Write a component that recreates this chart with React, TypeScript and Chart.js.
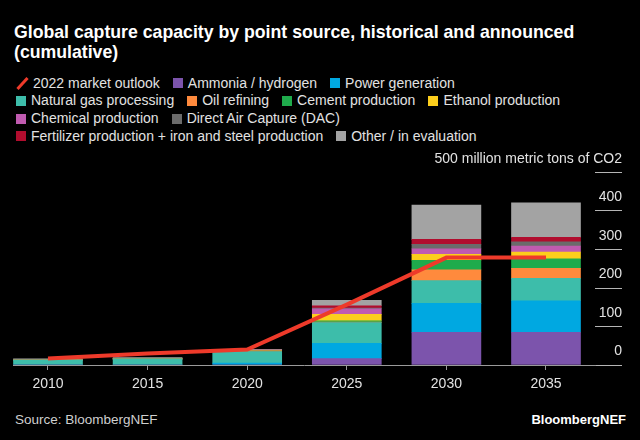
import React, { useEffect, useRef } from "react";
import { Chart, registerables } from "chart.js";

Chart.register(...registerables);

// ---- data ----
const years = [2010, 2015, 2020, 2025, 2030, 2035];
const ammonia = [0, 0, 0, 16.5, 85, 85];
const power = [0, 0, 5, 39.5, 75, 82];
const naturalGas = [13, 16, 30, 54.5, 59, 58];
const oilRefining = [0, 0, 1.5, 1, 28, 26];
const cement = [0, 0, 0, 3.5, 25, 25];
const ethanol = [0, 0, 0, 16.5, 15.5, 17.5];
const chemical = [0, 0, 0.5, 14.5, 14, 15.5];
const dac = [0, 0, 0, 2, 12, 11];
const fertilizerSteel = [0, 1.5, 1.5, 6, 13, 11.5];
const otherEval = [3, 1.5, 2.5, 14, 89, 90];
const outlook2022 = [17, 30, 40, 157, 279, 279];
const yTickValues = [0, 100, 200, 300, 400, 500];
const yTickLabels = ["0", "100", "200", "300", "400", "500 million metric tons of CO2"];

const FONT = '"Liberation Sans", Arial, Helvetica, sans-serif';
const LINE_RED = "#ee3a2a";

const barSeries = [
  { label: "Ammonia / hydrogen", data: ammonia, color: "#7c54ac" },
  { label: "Power generation", data: power, color: "#00a8e1" },
  { label: "Natural gas processing", data: naturalGas, color: "#3dbdaa" },
  { label: "Oil refining", data: oilRefining, color: "#ff8a3d" },
  { label: "Cement production", data: cement, color: "#1fab4c" },
  { label: "Ethanol production", data: ethanol, color: "#fcce1c" },
  { label: "Chemical production", data: chemical, color: "#c05bb0" },
  { label: "Direct Air Capture (DAC)", data: dac, color: "#6b6b6b" },
  { label: "Fertilizer production + iron and steel production", data: fertilizerSteel, color: "#b10d2e" },
  { label: "Other / in evaluation", data: otherEval, color: "#a3a3a3" },
];

const legendRows = [
  ["2022 market outlook", "Ammonia / hydrogen", "Power generation"],
  ["Natural gas processing", "Oil refining", "Cement production", "Ethanol production"],
  ["Chemical production", "Direct Air Capture (DAC)"],
  ["Fertilizer production + iron and steel production", "Other / in evaluation"],
];

const yLabelPlugin = {
  id: "yLabels",
  afterDraw(chart: any) {
    const s = chart.scales.y;
    const ctx = chart.ctx;
    ctx.save();
    ctx.font = `14px ${FONT}`;
    ctx.fillStyle = "#e2e2e2";
    ctx.textAlign = "right";
    ctx.textBaseline = "middle";
    s.ticks.forEach((t: any, i: number) => {
      ctx.fillText(yTickLabels[i], s.right, s.getPixelForValue(t.value) - 13.5);
    });
    ctx.restore();
  },
};

function LegendItem({ label }: { label: string }) {
  const isLine = label === "2022 market outlook";
  const s = barSeries.find((b) => b.label === label);
  return (
    <span style={{ display: "inline-flex", alignItems: "center", marginRight: 13, whiteSpace: "nowrap" }}>
      {isLine ? (
        <span style={{ position: "relative", width: 12, height: 12, marginRight: 5, display: "inline-block" }}>
          <span
            style={{
              position: "absolute",
              left: 4.5,
              top: -1.5,
              width: 3,
              height: 15,
              background: LINE_RED,
              transform: "rotate(42deg)",
            }}
          />
        </span>
      ) : (
        <span style={{ width: 10, height: 10, background: s ? s.color : "#fff", marginRight: 5, display: "inline-block" }} />
      )}
      <span>{label}</span>
    </span>
  );
}

export default function App() {
  const ref = useRef<HTMLCanvasElement>(null);

  useEffect(() => {
    const datasets: any[] = [
      {
        type: "line",
        label: "2022 market outlook",
        data: years.map((x, i) => ({ x, y: outlook2022[i] })),
        borderColor: LINE_RED,
        backgroundColor: LINE_RED,
        borderWidth: 4,
        pointRadius: 0,
        tension: 0,
        stack: "outlook",
        order: 0,
        borderJoinStyle: "miter",
        borderCapStyle: "butt",
      },
      ...barSeries.map((s) => ({
        type: "bar",
        label: s.label,
        data: years.map((x, i) => ({ x, y: s.data[i] })),
        backgroundColor: s.color,
        borderWidth: 0,
        barThickness: 69,
        stack: "bars",
        order: 1,
      })),
    ];

    const chart = new Chart(ref.current!, {
      type: "bar",
      data: { datasets },
      plugins: [yLabelPlugin],
      options: {
        animation: false,
        responsive: false,
        maintainAspectRatio: false,
        layout: { padding: { left: 13, right: 18, top: 22.5, bottom: 0 } },
        plugins: { legend: { display: false }, tooltip: { enabled: false }, title: { display: false } },
        scales: {
          x: {
            type: "linear",
            position: "bottom",
            stacked: true,
            offset: false,
            min: 2008.243,
            max: 2037.46,
            afterBuildTicks: (s: any) => {
              s.ticks = years.map((v) => ({ value: v }));
            },
            afterFit: (s: any) => {
              s.height = 35;
            },
            grid: { drawOnChartArea: false, drawTicks: true, tickLength: 5, color: "#9a9a9a", offset: false },
            border: { display: true, color: "#9a9a9a", width: 1 },
            ticks: {
              color: "#e2e2e2",
              font: { family: FONT, size: 14 },
              padding: 6,
              maxRotation: 0,
              autoSkip: false,
              callback: (v: any) => String(v),
            },
          },
          y: {
            type: "linear",
            position: "right",
            stacked: true,
            min: 0,
            max: 500,
            afterBuildTicks: (s: any) => {
              s.ticks = yTickValues.map((v) => ({ value: v }));
            },
            afterFit: (s: any) => {
              s.width = 27;
            },
            grid: { drawOnChartArea: false, drawTicks: true, tickLength: 27, color: "#b5b5b5" },
            border: { display: false },
            ticks: { display: false },
          },
        },
      } as any,
    });
    return () => chart.destroy();
  }, []);

  return (
    <div
      style={{
        position: "fixed",
        left: 0,
        top: 0,
        width: 640,
        height: 440,
        background: "#000",
        overflow: "hidden",
        fontFamily: FONT,
        color: "#e2e2e2",
      }}
    >
      <div
        style={{
          position: "absolute",
          left: 14,
          top: 22,
          width: 620,
          fontSize: 17.7,
          fontWeight: 700,
          lineHeight: "20px",
          color: "#ffffff",
        }}
      >
        Global capture capacity by point source, historical and announced
        <br />
        (cumulative)
      </div>
      <div style={{ position: "absolute", left: 16, top: 74.5, fontSize: 14, lineHeight: "17.7px" }}>
        {legendRows.map((row, ri) => (
          <div key={ri} style={{ display: "flex", height: 17.7, alignItems: "center" }}>
            {row.map((label) => (
              <LegendItem key={label} label={label} />
            ))}
          </div>
        ))}
      </div>
      <div style={{ position: "absolute", left: 0, top: 150, width: 640, height: 250 }}>
        <canvas ref={ref} width={640} height={250} style={{ display: "block" }} />
      </div>
      <div style={{ position: "absolute", left: 15, top: 411.5, fontSize: 13.5, color: "#cfcfcf" }}>
        Source: BloombergNEF
      </div>
      <div style={{ position: "absolute", right: 14, top: 411.5, fontSize: 13, fontWeight: 700, color: "#ffffff" }}>
        BloombergNEF
      </div>
    </div>
  );
}
